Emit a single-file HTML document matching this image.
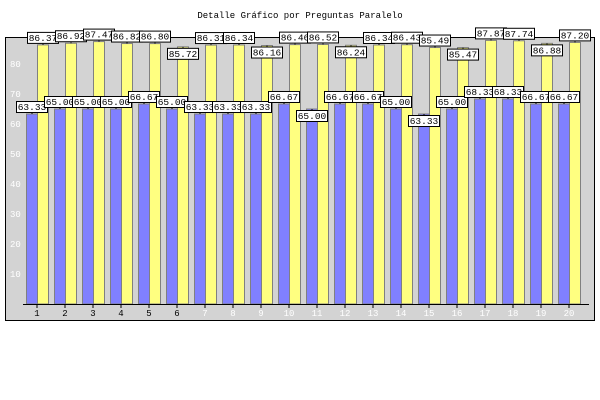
<!DOCTYPE html>
<html><head><meta charset="utf-8"><style>body{margin:0;background:#fff}svg{display:block}text{font-family:"Liberation Mono","DejaVu Sans Mono",monospace}</style></head>
<body>
<svg id="c" width="600" height="400">
<text x="300" y="18" text-anchor="middle" font-size="9">Detalle Gráfico por Preguntas Paralelo</text>
<rect x="5.5" y="37.5" width="589" height="283" fill="#d3d3d3" stroke="#000"/>
<g id="g"></g>
</svg>
<script>
const categories=["1","2","3","4","5","6","7","8","9","10","11","12","13","14","15","16","17","18","19","20"];
const blueValues=[63.33,65.00,65.00,65.00,66.67,65.00,63.33,63.33,63.33,66.67,65.00,66.67,66.67,65.00,63.33,65.00,68.33,68.33,66.67,66.67];
const yellowValues=[86.37,86.92,87.47,86.82,86.80,85.72,86.31,86.34,86.16,86.46,86.52,86.24,86.34,86.43,85.49,85.47,87.87,87.74,86.88,87.20];
const yTicks=[10,20,30,40,50,60,70,80];
const blueBelow=[10,14];
const yellowBelow=[5,8,11,15,18];
const NS="http://www.w3.org/2000/svg";
const g=document.getElementById('g');
function y(v){return 304-v*3;}
function x(i){return 37+i*28;}
function mk(t,a){const e=document.createElementNS(NS,t);for(const k in a)e.setAttribute(k,a[k]);g.appendChild(e);return e;}
yTicks.forEach(t=>{const e=mk('text',{x:10,y:y(t)+3,'font-size':9,fill:'#fff'});e.textContent=t;

});
function label(cx,top,v,below){
  const bw=31,bh=12;
  const by=below?top+1:top-bh-1;
  const l=mk('line',{x1:cx,y1:top,x2:cx,y2:below?by:by+bh,stroke:'#000'});
  
  
  const r=mk('rect',{x:cx-bw/2,y:by+0.5,width:bw,height:bh-1,fill:'#fff',stroke:'#000'});
  
  
  const t=mk('text',{x:cx,y:by+9,'text-anchor':'middle','font-size':9.5});
  t.textContent=v.toFixed(2);
  
  
}
categories.forEach((c,i)=>{
  const cx=x(i);
  const b=mk('rect',{x:cx-10.5,y:y(blueValues[i]),width:11,height:304-y(blueValues[i]),fill:'#8080ff',stroke:'#808080'});
  
  
  const yb=mk('rect',{x:cx+0.5,y:y(yellowValues[i]),width:11,height:304-y(yellowValues[i]),fill:'#ffff80',stroke:'#808080'});
  
  
  const tk=mk('line',{x1:cx,y1:304,x2:cx,y2:308,stroke:'#000'});
  
  
  const t=mk('text',{x:cx,y:316,'text-anchor':'middle','font-size':9,fill:i<6?'#000':'#fff'});
  t.textContent=c;
  
  
});
const ax=mk('line',{x1:23,y1:304.5,x2:589,y2:304.5,stroke:'#000'});


categories.forEach((c,i)=>{
  label(x(i)-5,y(blueValues[i]),blueValues[i],blueBelow.includes(i));
  label(x(i)+6,y(yellowValues[i]),yellowValues[i],yellowBelow.includes(i));
});
</script>
</body></html>
